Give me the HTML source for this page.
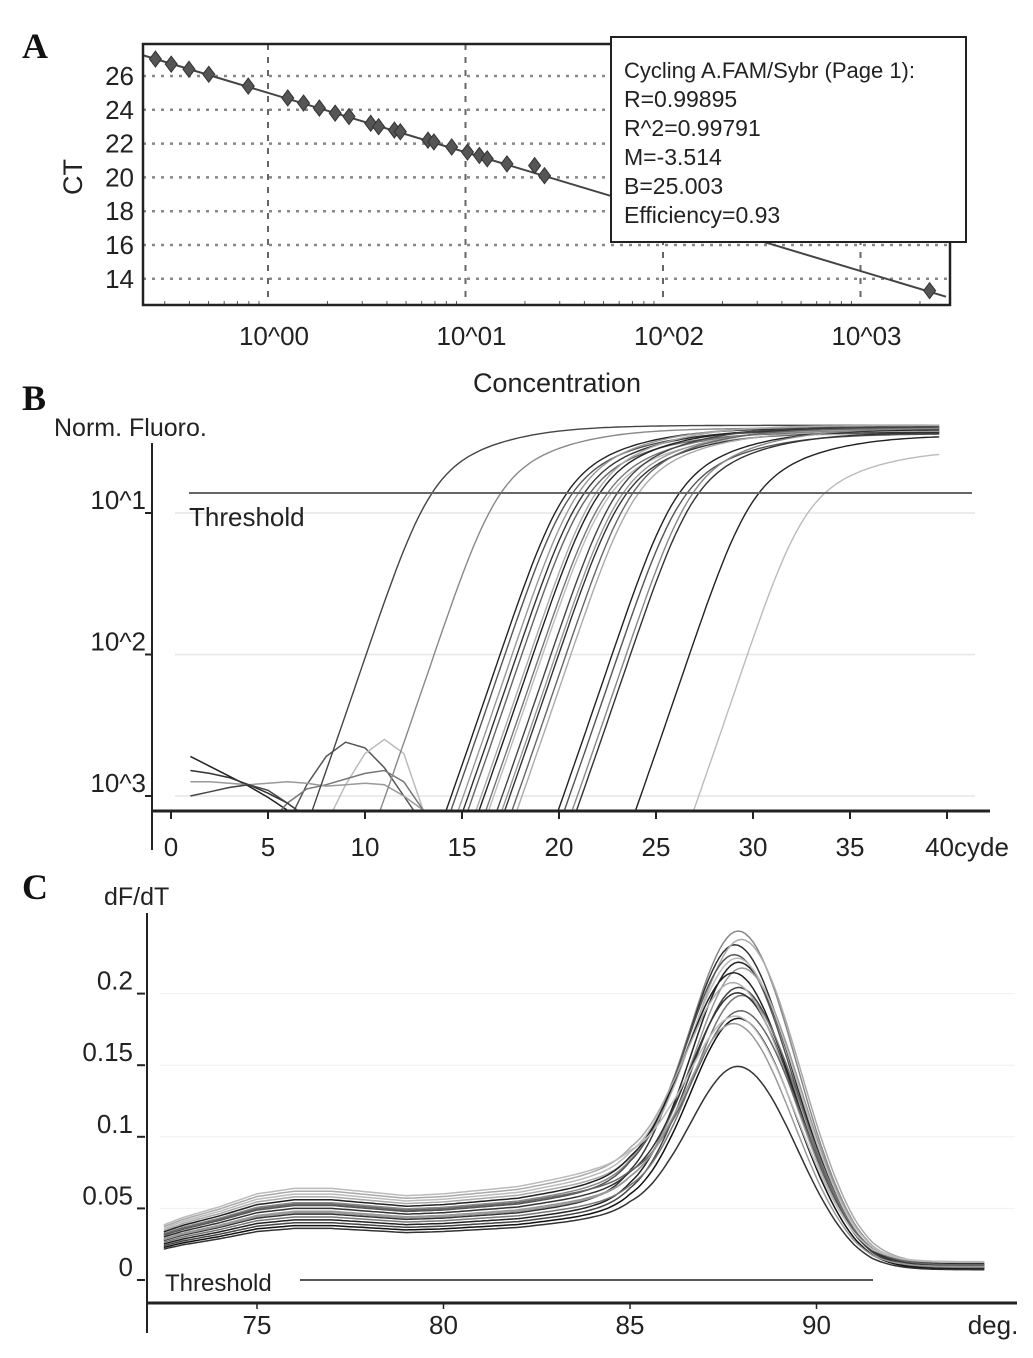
<!DOCTYPE html>
<html><head><meta charset="utf-8"><style>
html,body{margin:0;padding:0;background:#fff}
svg{display:block}
text{font-family:"Liberation Sans",sans-serif;fill:#222}
.lbl{font-family:"Liberation Serif",serif;font-weight:bold;font-size:36px;fill:#111}
</style></head><body>
<svg id="fig" width="1033" height="1358" viewBox="0 0 1033 1358" xmlns="http://www.w3.org/2000/svg">
<text class="lbl" x="22" y="58">A</text>
<text class="lbl" x="22" y="410">B</text>
<text class="lbl" x="22" y="899">C</text>
<g id="pa"></g>
<g id="pb"></g>
<g id="pc"></g>
</svg>
<script>
// ---------- Panel A data ----------
const aLogConc = [-0.57,-0.49,-0.40,-0.30,-0.10,0.10,0.18,0.26,0.34,0.41,0.52,0.56,0.64,0.67,0.81,0.84,0.93,1.01,1.07,1.11,1.21,1.35,1.40,3.35];
const aCT = [27.0,26.7,26.4,26.1,25.4,24.7,24.4,24.1,23.8,23.6,23.2,23.0,22.8,22.7,22.2,22.1,21.8,21.5,21.3,21.1,20.8,20.7,20.1,13.3];
const aTicksX = ["10^00","10^01","10^02","10^03"];
const aTicksY = [26,24,22,20,18,16,14];
const aSlope = -3.514, aIntercept = 25.003;
const aStats = ["Cycling  A.FAM/Sybr (Page  1):","R=0.99895","R^2=0.99791","M=-3.514","B=25.003","Efficiency=0.93"];

// ---------- Panel B data ----------
const bCt = [13.45,17.0,20.4,20.7,21.0,21.3,21.6,21.9,22.1,22.5,22.7,23.0,23.3,23.5,23.8,24.1,26.2,26.6,26.9,27.2,30.3,33.7];
const bPlateau = [-0.38,-0.40,-0.40,-0.42,-0.39,-0.41,-0.43,-0.38,-0.40,-0.42,-0.44,-0.39,-0.41,-0.43,-0.40,-0.42,-0.41,-0.44,-0.40,-0.43,-0.45,-0.55];
const bShade = ["#444","#888","#222","#555","#999","#333","#666","#aaa","#222","#777","#bbb","#444","#999","#333","#666","#aaa","#222","#555","#888","#333","#222","#bbb"];
const bNoiseCycles = [1,2,3,4,5,6,7,8,9,10,11,12,13];
const bNoise1 = [-2.72,-2.79,-2.86,-2.93,-3.01,-3.10,-3.20,-3.3,-3.3,-3.3,-3.3,-3.3,-3.3];
const bNoise2 = [-3.3,-3.3,-3.3,-3.3,-3.3,-3.2,-2.92,-2.72,-2.62,-2.66,-2.80,-3.00,-3.2];
const bNoise3 = [-3.3,-3.3,-3.3,-3.3,-3.3,-3.3,-3.3,-3.2,-2.92,-2.70,-2.60,-2.70,-3.10];
const bNoise4 = [-3.3,-3.3,-3.3,-3.3,-3.2,-3.05,-2.95,-2.92,-2.88,-2.84,-2.82,-2.90,-3.1];
const bNoise5 = [-2.90,-2.90,-2.91,-2.92,-2.91,-2.90,-2.91,-2.93,-2.92,-2.91,-2.92,-3.0,-3.1];
const bNoise6 = [-2.82,-2.84,-2.87,-2.92,-2.98,-3.05,-3.15,-3.3,-3.3,-3.3,-3.3,-3.3,-3.3];
const bNoise7 = [-3.0,-2.97,-2.94,-2.92,-2.96,-3.05,-3.15,-3.25,-3.3,-3.3,-3.3,-3.3,-3.3];
const bNoiseSeries = [bNoise1,bNoise2,bNoise3,bNoise4,bNoise5,bNoise6,bNoise7];
const bNoiseShade = ["#222","#555","#bbb","#777","#999","#333","#444"];
const bTicksX = [0,5,10,15,20,25,30,35,40];
const bTicksY = [-1,-2,-3];
const bTickLabelsY = ["10^1","10^2","10^3"];

// ---------- Panel C data ----------
const cTemps = [72.5,73,74,75,76,77,78,79,80,81,82,83,84,85,86,87,88,89,90,91,91.5,92,93,94.5];
const cBase  = [0.030,0.034,0.040,0.047,0.050,0.050,0.048,0.046,0.047,0.049,0.051,0.055,0.059,0.062,0.058,0.050,0.040,0.030,0.020,0.012,0.010,0.010,0.010,0.010];
const cPeak = [0.240,0.236,0.232,0.228,0.224,0.220,0.216,0.212,0.208,0.204,0.200,0.196,0.192,0.186,0.180,0.172,0.160];
const cTm = [88.0,87.9,88.1,88.0,87.9,88.1,88.0,88.0,87.9,88.1,88.0,87.9,88.0,88.1,87.9,88.0,88.0];
const cOffset = [0.004,-0.004,0.008,-0.008,0.002,-0.002,0.010,-0.010,0.006,-0.006,0.0,0.012,-0.012,0.003,-0.003,0.014,-0.014];
const cShade = ["#888","#333","#aaa","#222","#555","#999","#bbb","#444","#222","#777","#333","#aaa","#111","#666","#999","#bbb","#333"];
const cTicksX = [75,80,85,90];
const cTicksY = [0,0.05,0.1,0.15,0.2];
const cTickLabelsY = ["0","0.05","0.1","0.15","0.2"];

const NS = "http://www.w3.org/2000/svg";
function mk(parent, tag, attrs, txt){const e=document.createElementNS(NS,tag);for(const k in attrs)e.setAttribute(k,attrs[k]);if(txt!==undefined)e.textContent=txt;parent.appendChild(e);return e;}

// ===== Panel A =====
(function(){
const g=document.getElementById('pa');
const L=143,R=950,T=44,B=305;
const xA=v=>268+(v)*197.5;
const yA=v=>76+(26-v)*16.9;
mk(g,'rect',{x:L,y:T,width:R-L,height:B-T,fill:'#fff',stroke:'none'});
aTicksY.forEach(v=>{const l=mk(g,'line',{x1:L,x2:R,y1:yA(v),y2:yA(v),stroke:'#888','stroke-width':2.5,'stroke-dasharray':'3 6'});

const t=mk(g,'text',{x:134,y:yA(v)+9,'font-size':26,'text-anchor':'end'},String(v));
});
aTicksX.forEach((s,i)=>{const x=xA(i);const l=mk(g,'line',{x1:x,x2:x,y1:T,y2:B,stroke:'#666','stroke-width':2,'stroke-dasharray':'6 7'});

const t=mk(g,'text',{x:x+6,y:345,'font-size':26,'text-anchor':'middle'},s);
});
for(let d=-1;d<=3;d++){for(let m=2;m<10;m++){const x=xA(d+Math.log10(m));if(x>L&&x<R)mk(g,'line',{x1:x,x2:x,y1:B-4,y2:B,stroke:'#555','stroke-width':1});}}
const fit=mk(g,'line',{x1:L,y1:yA(aIntercept+aSlope*((L-268)/197.5)),x2:R-4,y2:yA(aIntercept+aSlope*((R-4-268)/197.5)),stroke:'#444','stroke-width':2});

aLogConc.forEach((v,i)=>{const x=xA(v),y=yA(aCT[i]);
const p=mk(g,'polygon',{points:`${x},${y-8} ${x+6},${y} ${x},${y+8} ${x-6},${y}`,fill:'#555',stroke:'#333','stroke-width':1});
});
mk(g,'rect',{x:L,y:T,width:R-L,height:B-T,fill:'none',stroke:'#222','stroke-width':2.5});
const t1=mk(g,'text',{x:82,y:177,'font-size':27,'text-anchor':'middle',transform:'rotate(-90 82 177)'},'CT');

const t2=mk(g,'text',{x:557,y:392,'font-size':27,'text-anchor':'middle'},'Concentration');

const box=mk(g,'rect',{x:611,y:37,width:355,height:205,fill:'#fff',stroke:'#222','stroke-width':2});

aStats.forEach((s,i)=>{const t=mk(g,'text',{x:624,y:78+i*29,'font-size':i===0?22:23},s);
});
})();

// ===== Panel B =====
(function(){
const g=document.getElementById('pb');
const L=152,R=990,AX=811,TOP=443;
const xB=c=>171+c*19.4;
const yB=d=>513-(d+1)*141.5;
bTicksY.forEach((d,i)=>{const y=yB(d);
mk(g,'line',{x1:175,x2:975,y1:y,y2:y,stroke:'#e6e6e6','stroke-width':1.5});
mk(g,'line',{x1:145,x2:152,y1:y,y2:y,stroke:'#222','stroke-width':2});
const t=mk(g,'text',{x:146,y:y-4,'font-size':26,'text-anchor':'end'},bTickLabelsY[i]);
});
const clip=mk(g,'clipPath',{id:'clipB'});mk(clip,'rect',{x:L,y:TOP-30,width:R-L,height:AX-TOP+30});
const cg=mk(g,'g',{'clip-path':'url(#clipB)'});
bNoiseSeries.forEach((s,i)=>{const pts=s.map((d,j)=>`${xB(bNoiseCycles[j]).toFixed(1)},${yB(d).toFixed(1)}`).join(' ');
const p=mk(cg,'polyline',{points:pts,fill:'none',stroke:bNoiseShade[i],'stroke-width':1.5});
});
const kLo=1.15, kHi=2.4, thr=-0.86;
function curveD(c,c0,P){const w=1/(1+Math.exp(-(c-c0)/1.5));const k=kLo+(kHi-kLo)*w;return Math.log10(P/(1+Math.exp(-(c-c0)/k)));}
bCt.forEach((ct,i)=>{const P=Math.pow(10,bPlateau[i]);
// find c0 so the curve crosses threshold at ct
let lo=ct-5,hi=ct+8;for(let it=0;it<50;it++){const m=(lo+hi)/2;if(curveD(ct,m,P)>thr)lo=m;else hi=m;}
const c0=(lo+hi)/2;
let pts=[];for(let c=1;c<=39.8;c+=0.2){let d=curveD(c,c0,P);if(d<-3.4)d=-3.4;pts.push(`${xB(c).toFixed(1)},${yB(d).toFixed(1)}`);}
const p=mk(cg,'polyline',{points:pts.join(' '),fill:'none',stroke:bShade[i],'stroke-width':1.4});
});
const th=mk(g,'line',{x1:189,x2:972,y1:493,y2:493,stroke:'#666','stroke-width':2});

const tt=mk(g,'text',{x:189,y:526,'font-size':26},'Threshold');

mk(g,'line',{x1:L,x2:L,y1:TOP,y2:850,stroke:'#222','stroke-width':2});
mk(g,'line',{x1:L,x2:R,y1:AX,y2:AX,stroke:'#222','stroke-width':3});
bTicksX.forEach(c=>{const x=xB(c);mk(g,'line',{x1:x,x2:x,y1:AX,y2:AX+8,stroke:'#222','stroke-width':2});
const t=mk(g,'text',{x:c===40?x+20:x,y:856,'font-size':26,'text-anchor':'middle'},c===40?'40cyde':String(c));
});
const yt=mk(g,'text',{x:54,y:436,'font-size':25},'Norm.  Fluoro.');

})();

// ===== Panel C =====
(function(){
const g=document.getElementById('pc');
const L=147,R=1017,AX=1303;
const xC=t=>257+(t-75)*37.3;
const yC=v=>1280-v*1432;
cTicksY.forEach((v,i)=>{const y=yC(v);
if(i>0)mk(g,'line',{x1:160,x2:1015,y1:y,y2:y,stroke:'#f0f0f0','stroke-width':1});
mk(g,'line',{x1:137,x2:145,y1:y,y2:y,stroke:'#222','stroke-width':2});
const t=mk(g,'text',{x:133,y:y-4,'font-size':26,'text-anchor':'end'},cTickLabelsY[i]);
});
const th=mk(g,'line',{x1:300,x2:873,y1:1280,y2:1280,stroke:'#555','stroke-width':2});

const tt=mk(g,'text',{x:165,y:1291,'font-size':24},'Threshold');

function baseAt(t){for(let j=0;j<cTemps.length-1;j++){if(t<=cTemps[j+1]){const f=(t-cTemps[j])/(cTemps[j+1]-cTemps[j]);return cBase[j]+f*(cBase[j+1]-cBase[j]);}}return cBase[cBase.length-1];}
cPeak.forEach((h,i)=>{let pts=[];for(let t=72.5;t<=94.5;t+=0.1){const b=baseAt(t);const off=cOffset[i]*(b/0.05);const s=t<cTm[i]?1.35:1.5;const v=b+off+(h-0.04)*Math.exp(-Math.pow(t-cTm[i],2)/(2*s*s));pts.push(`${xC(t).toFixed(1)},${yC(v).toFixed(1)}`);}
const p=mk(g,'polyline',{points:pts.join(' '),fill:'none',stroke:cShade[i],'stroke-width':1.5});
});
mk(g,'line',{x1:L,x2:L,y1:913,y2:1333,stroke:'#222','stroke-width':2});
mk(g,'line',{x1:L,x2:R,y1:AX,y2:AX,stroke:'#222','stroke-width':3});
cTicksX.forEach(t=>{const x=xC(t);mk(g,'line',{x1:x,x2:x,y1:AX,y2:AX+6,stroke:'#222','stroke-width':1.5});
const tx=mk(g,'text',{x:x,y:1334,'font-size':26,'text-anchor':'middle'},String(t));
});
const dg=mk(g,'text',{x:993,y:1334,'font-size':26,'text-anchor':'middle'},'deg.');

const yt=mk(g,'text',{x:104,y:905,'font-size':25},'dF/dT');

})();
</script>
</body></html>
